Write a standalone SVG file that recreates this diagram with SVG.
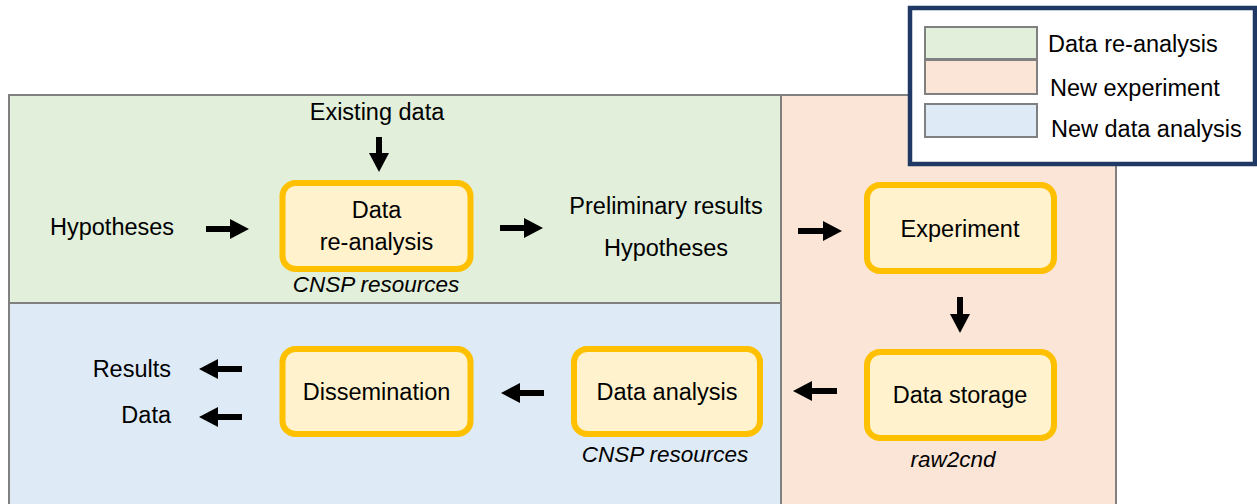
<svg xmlns="http://www.w3.org/2000/svg" width="1257" height="504" viewBox="0 0 1257 504">
<style>
.region{stroke:#808080;stroke-width:2}
.node rect{fill:#fff2cc;stroke:#ffc000;stroke-width:6}
text{font-family:"Liberation Sans",Arial,sans-serif;font-size:23.5px;fill:#000}
.c{text-anchor:middle}
.e{text-anchor:end}
.i{font-style:italic;font-size:22.5px}
.arrow{stroke:#000;stroke-width:6;fill:none;marker-end:url(#head)}
.sw{stroke:#808080;stroke-width:2}
</style>
<defs>
<marker id="head" markerUnits="userSpaceOnUse" markerWidth="20" markerHeight="20" refX="0" refY="10" orient="auto" overflow="visible">
<path d="M0,0 L19,10 L0,20 Z" fill="#000"/>
</marker>
</defs>
<rect width="1257" height="504" fill="#fff"/>
<g id="regions">
<rect class="region" x="781" y="95" width="335" height="420" fill="#fbe5d6"/>
<rect class="region" x="9" y="95" width="772" height="208" fill="#e2efda"/>
<rect class="region" x="9" y="303" width="772" height="212" fill="#deebf7"/>
</g>
<g id="legend">
<rect x="910" y="8" width="345" height="156" fill="#fff" stroke="#1f3864" stroke-width="4.5"/>
<rect class="sw" x="925" y="27" width="112" height="32" fill="#e2efda"/>
<rect class="sw" x="925" y="60" width="112" height="34" fill="#fbe5d6"/>
<rect class="sw" x="925" y="104" width="112" height="33" fill="#deebf7"/>
<text x="1048" y="52">Data re-analysis</text>
<text x="1050" y="96">New experiment</text>
<text x="1051" y="137">New data analysis</text>
</g>
<g id="labels">
<text class="c" x="377" y="120">Existing data</text>
<text x="50" y="235">Hypotheses</text>
<text class="c" x="666" y="214">Preliminary results</text>
<text class="c" x="666" y="256">Hypotheses</text>
<text class="e" x="171" y="377">Results</text>
<text class="e" x="171" y="423">Data</text>
</g>
<g id="node-reanalysis" class="node">
<rect x="282.5" y="183" width="188" height="86" rx="13"/>
<text class="c" x="376.5" y="218">Data</text>
<text class="c" x="376.5" y="250">re-analysis</text>
<text class="c i" x="376" y="292">CNSP resources</text>
</g>
<g id="node-experiment" class="node">
<rect x="867" y="185" width="187" height="86" rx="13"/>
<text class="c" x="960" y="237">Experiment</text>
</g>
<g id="node-storage" class="node">
<rect x="867" y="352" width="187" height="86" rx="13"/>
<text class="c" x="960" y="403">Data storage</text>
<text class="c i" x="953" y="467">raw2cnd</text>
</g>
<g id="node-analysis" class="node">
<rect x="574" y="349" width="186" height="85" rx="13"/>
<text class="c" x="667" y="400">Data analysis</text>
<text class="c i" x="665" y="462">CNSP resources</text>
</g>
<g id="node-dissemination" class="node">
<rect x="282.5" y="349" width="188" height="85" rx="13"/>
<text class="c" x="376.5" y="400">Dissemination</text>
</g>
<g id="connectors">
<path class="arrow" d="M379,137 V153"/>
<path class="arrow" d="M206,229 H230"/>
<path class="arrow" d="M500,228 H524"/>
<path class="arrow" d="M798,231 H823"/>
<path class="arrow" d="M960,297 V314"/>
<path class="arrow" d="M837,391 H812"/>
<path class="arrow" d="M544,393 H520"/>
<path class="arrow" d="M242,369 H218"/>
<path class="arrow" d="M242,417 H218"/>
</g>
</svg>
